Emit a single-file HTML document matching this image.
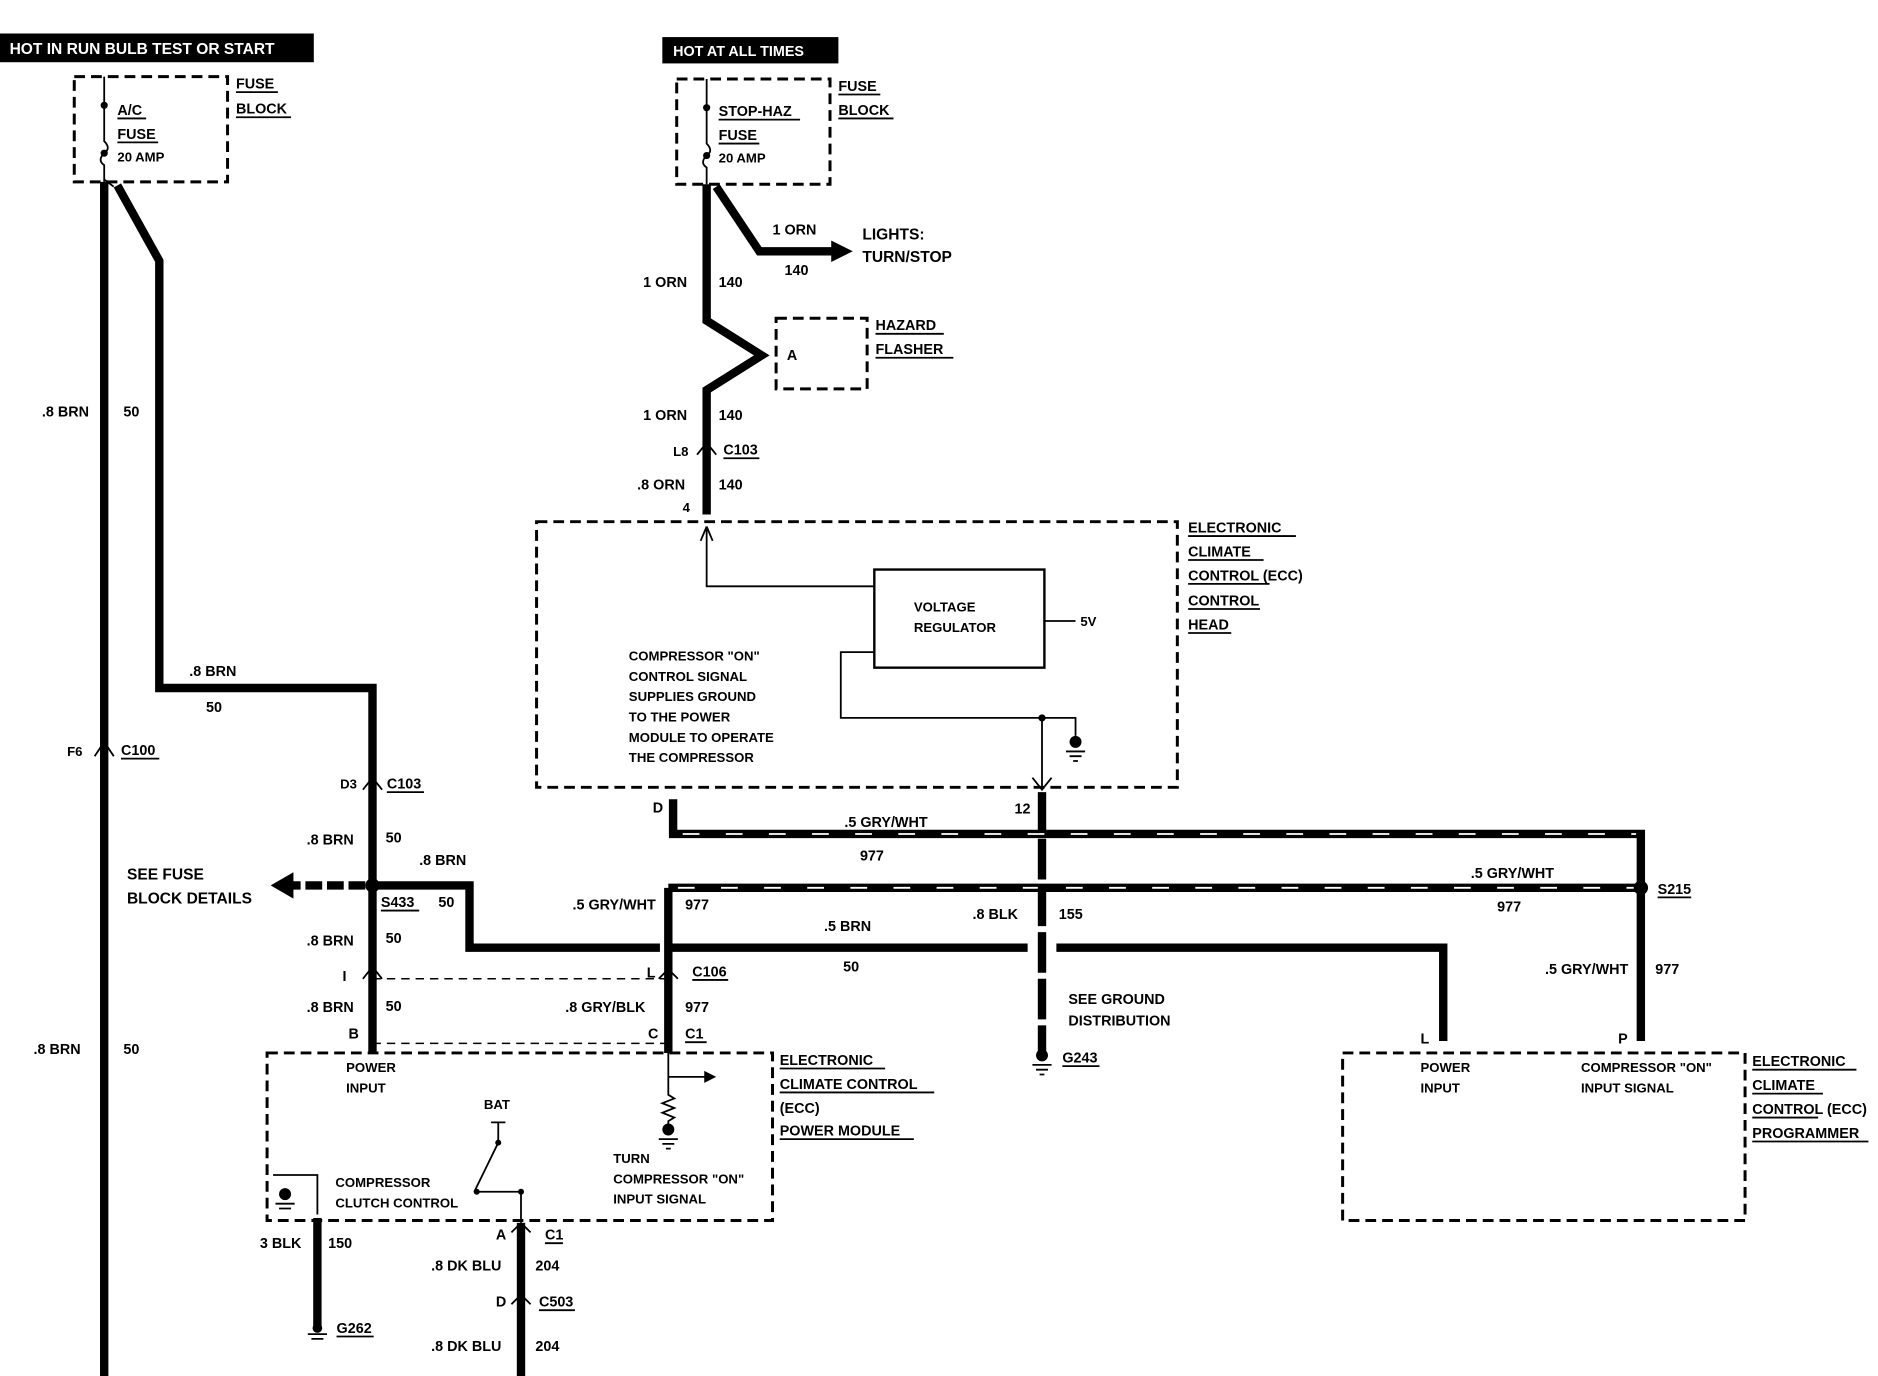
<!DOCTYPE html>
<html><head><meta charset="utf-8"><style>
html,body{margin:0;padding:0;background:#fff}
svg{display:block}
text{font-family:"Liberation Sans",sans-serif;font-weight:bold;font-size:12px;fill:#000}
.s{font-size:11px}
.w{stroke:#000;stroke-width:7;fill:none;stroke-linejoin:miter}
.t{stroke:#000;stroke-width:1.5;fill:none}
.d{stroke:#000;stroke-width:2.5;fill:none;stroke-dasharray:9,5}
.dt{stroke:#000;stroke-width:1.3;fill:none;stroke-dasharray:7,5}
.h{stroke:#fff;stroke-width:1.5;stroke-dasharray:14,22;fill:none}
.u{stroke:#000;stroke-width:1.5}
</style></head><body>
<svg width="1878" height="1376" viewBox="0 0 1568 1150" preserveAspectRatio="none" xmlns="http://www.w3.org/2000/svg">
<!-- top bars -->
<rect x="0" y="28" width="262" height="24" fill="#000"/>
<text x="8" y="45" style="fill:#fff;font-size:13px">HOT IN RUN BULB TEST OR START</text>
<rect x="553" y="31" width="147" height="22" fill="#000"/>
<text x="562" y="47" style="fill:#fff;font-size:12px">HOT AT ALL TIMES</text>

<!-- AC fuse block -->
<rect x="62" y="64" width="128" height="88" class="d"/>
<path class="t" d="M87 64 V118 q6 6 0 10 q-6 6 0 10 V152"/>
<circle cx="87" cy="88" r="3"/><circle cx="87" cy="128" r="3"/>
<path class="t" d="M87 150 L95 156"/>
<text x="98" y="96">A/C</text><line x1="98" y1="99" x2="122" y2="99" class="u"/>
<text x="98" y="116">FUSE</text><line x1="98" y1="119" x2="132" y2="119" class="u"/>
<text x="98" y="135" class="s">20 AMP</text>
<text x="197" y="74">FUSE</text><line x1="197" y1="77" x2="232" y2="77" class="u"/>
<text x="197" y="95">BLOCK</text><line x1="197" y1="98" x2="243" y2="98" class="u"/>

<path class="w" d="M87 152 V1150"/>
<path class="w" d="M98 155 L133 218 V575 H311 V880"/>
<text x="35" y="348">.8 BRN</text><text x="103" y="348">50</text>
<text x="28" y="881">.8 BRN</text><text x="103" y="881">50</text>
<text x="56" y="632" class="s">F6</text><text x="101" y="631">C100</text><line x1="101" y1="634" x2="133" y2="634" class="u"/>
<path d="M79 632 L87 620 L95 632" class="t" stroke-width="3"/>
<text x="158" y="565">.8 BRN</text><text x="172" y="595">50</text>

<text x="284" y="659" class="s">D3</text><text x="323" y="659">C103</text><line x1="323" y1="662" x2="354" y2="662" class="u"/>
<path d="M303 660 L311 650 L319 660" class="t" stroke-width="3"/>
<text x="256" y="706">.8 BRN</text><text x="322" y="704">50</text>
<circle cx="311" cy="740" r="6"/>
<path d="M305 740 H240" stroke="#000" stroke-width="7" stroke-dasharray="14,4"/>
<path d="M226 740 L245 729 L245 751 Z"/>
<text x="106" y="735" style="font-size:13px">SEE FUSE</text>
<text x="106" y="755" style="font-size:13px">BLOCK DETAILS</text>
<text x="318" y="758">S433</text><line x1="318" y1="761" x2="350" y2="761" class="u"/>
<path class="w" d="M311 740 H392 V792 H551"/>
<text x="350" y="723">.8 BRN</text><text x="366" y="758">50</text>
<text x="256" y="790">.8 BRN</text><text x="322" y="788">50</text>
<text x="286" y="820">I</text>
<path d="M303 818 L311 808 L319 818" class="t" stroke-width="3"/>
<text x="256" y="846">.8 BRN</text><text x="322" y="845">50</text>
<text x="291" y="868">B</text>
<path class="dt" d="M311 818 H558 M311 872 H558"/>

<!-- 977 wire to C106 -->
<path class="w" d="M558 742 V880"/>
<path class="w" d="M558 742 H1370 V870"/>
<path class="h" d="M566 742 H1366"/>
<text x="478" y="760">.5 GRY/WHT</text><text x="572" y="760">977</text>
<text x="540" y="817">L</text><text x="578" y="816">C106</text><line x1="578" y1="819" x2="608" y2="819" class="u"/>
<path d="M550 818 L558 810 L566 818" class="t" stroke-width="3"/>
<text x="472" y="846">.8 GRY/BLK</text><text x="572" y="846">977</text>
<text x="541" y="868">C</text><text x="572" y="868">C1</text><line x1="572" y1="871" x2="590" y2="871" class="u"/>
<circle cx="1370" cy="742" r="6"/>
<text x="1384" y="747">S215</text><line x1="1384" y1="750" x2="1412" y2="750" class="u"/>
<text x="1228" y="734">.5 GRY/WHT</text><text x="1250" y="762">977</text>
<text x="1290" y="814">.5 GRY/WHT</text><text x="1382" y="814">977</text>
<text x="1351" y="872">P</text>

<!-- D wire -->
<path class="w" d="M562 668 V697 H1370 V742"/>
<path class="h" d="M570 697 H1366"/>
<text x="545" y="679">D</text><text x="847" y="680">12</text>
<text x="705" y="691">.5 GRY/WHT</text><text x="718" y="719">977</text>

<!-- brown 50 to programmer -->
<path class="w" d="M558 792 H858 M882 792 H1205 V870"/>
<text x="688" y="778">.5 BRN</text><text x="704" y="812">50</text>
<text x="1186" y="872">L</text>

<!-- vertical 155 -->
<path class="w" d="M870 662 V880" stroke-dasharray="34,5"/>
<text x="812" y="768">.8 BLK</text><text x="884" y="768">155</text>
<text x="892" y="839">SEE GROUND</text><text x="892" y="857">DISTRIBUTION</text>
<circle cx="870" cy="882" r="5"/>
<path class="t" d="M862 890 H878 M865 894 H875 M868 898 H872"/>
<text x="887" y="888">G243</text><line x1="887" y1="891" x2="918" y2="891" class="u"/>

<!-- stop-haz fuse -->
<rect x="565" y="66" width="128" height="88" class="d"/>
<path class="t" d="M590 66 V120 q6 6 0 10 q-6 6 0 10 V154"/>
<circle cx="590" cy="90" r="3"/><circle cx="590" cy="130" r="3"/>
<text x="600" y="97">STOP-HAZ</text><line x1="600" y1="100" x2="668" y2="100" class="u"/>
<text x="600" y="117">FUSE</text><line x1="600" y1="120" x2="634" y2="120" class="u"/>
<text x="600" y="136" class="s">20 AMP</text>
<text x="700" y="76">FUSE</text><line x1="700" y1="79" x2="735" y2="79" class="u"/>
<text x="700" y="96">BLOCK</text><line x1="700" y1="99" x2="746" y2="99" class="u"/>
<path class="w" d="M590 154 V268 L636 297 L590 326 V430"/>
<path class="w" d="M598 156 L634 210 H696"/>
<path d="M712 210 L694 201 L694 219 Z"/>
<text x="645" y="196">1 ORN</text><text x="655" y="230">140</text>
<text x="720" y="200" style="font-size:13px">LIGHTS:</text><text x="720" y="219" style="font-size:13px">TURN/STOP</text>
<text x="537" y="240">1 ORN</text><text x="600" y="240">140</text>
<rect x="648" y="266" width="76" height="59" class="d"/>
<text x="657" y="301">A</text>
<text x="731" y="276">HAZARD</text><line x1="731" y1="279" x2="788" y2="279" class="u"/>
<text x="731" y="296">FLASHER</text><line x1="731" y1="299" x2="796" y2="299" class="u"/>
<text x="537" y="351">1 ORN</text><text x="600" y="351">140</text>
<text x="562" y="381" class="s">L8</text><text x="604" y="380">C103</text><line x1="604" y1="383" x2="634" y2="383" class="u"/>
<path d="M582 380 L590 370 L598 380" class="t" stroke-width="3"/>
<text x="532" y="409">.8 ORN</text><text x="600" y="409">140</text>
<text x="570" y="428" class="s">4</text>

<!-- ECC control head -->
<rect x="448" y="436" width="535" height="222" class="d"/>
<path class="t" d="M590 440 V490 H730"/>
<path d="M590 440 L585 452 M590 440 L595 452" class="t"/>
<rect x="730" y="476" width="142" height="82" fill="none" stroke="#000" stroke-width="2"/>
<text x="763" y="511" class="s">VOLTAGE</text><text x="763" y="528" class="s">REGULATOR</text>
<path class="t" d="M872 519 H898"/><text x="902" y="523" class="s">5V</text>
<path class="t" d="M730 545 H702 V600 H898 V615 M870 600 V658"/>
<circle cx="870" cy="600" r="3"/>
<circle cx="898" cy="620" r="5"/><path class="t" d="M890 628 H906 M893 632 H903 M896 636 H900"/>
<path d="M862 650 L870 660 L878 650" class="t"/>
<text x="525" y="552" class="s">COMPRESSOR "ON"</text>
<text x="525" y="569" class="s">CONTROL SIGNAL</text>
<text x="525" y="586" class="s">SUPPLIES GROUND</text>
<text x="525" y="603" class="s">TO THE POWER</text>
<text x="525" y="620" class="s">MODULE TO OPERATE</text>
<text x="525" y="637" class="s">THE COMPRESSOR</text>
<text x="992" y="445">ELECTRONIC</text><line x1="992" y1="448" x2="1082" y2="448" class="u"/>
<text x="992" y="465">CLIMATE</text><line x1="992" y1="468" x2="1055" y2="468" class="u"/>
<text x="992" y="485">CONTROL (ECC)</text><line x1="992" y1="488" x2="1060" y2="488" class="u"/>
<text x="992" y="506">CONTROL</text><line x1="992" y1="509" x2="1052" y2="509" class="u"/>
<text x="992" y="526">HEAD</text><line x1="992" y1="529" x2="1028" y2="529" class="u"/>

<!-- power module -->
<rect x="223" y="880" width="422" height="140" class="d"/>
<text x="289" y="896" class="s">POWER</text><text x="289" y="913" class="s">INPUT</text>
<path class="t" d="M558 880 V915 l5 3 -10 4 10 4 -10 4 10 4 -5 3 V940 M558 900 H590"/>
<path d="M598 900 L588 895 L588 905 Z"/>
<circle cx="558" cy="944" r="5"/><path class="t" d="M550 952 H566 M553 956 H563 M556 960 H560"/>
<text x="512" y="972" class="s">TURN</text>
<text x="512" y="989" class="s">COMPRESSOR "ON"</text>
<text x="512" y="1006" class="s">INPUT SIGNAL</text>
<text x="404" y="927" class="s">BAT</text>
<path class="t" d="M410 938 H422 M416 938 V955 M416 955 L396 996 M398 996 H435"/>
<circle cx="416" cy="955" r="2.5"/><circle cx="398" cy="996" r="2.5"/><circle cx="435" cy="996" r="2.5"/>
<path class="t" d="M435 996 V1020"/>
<path class="t" d="M228 982 H265 V1015 M238 994 V1000"/>
<circle cx="238" cy="998" r="5"/><path class="t" d="M230 1006 H246 M233 1010 H243"/>
<text x="280" y="992" class="s">COMPRESSOR</text><text x="280" y="1009" class="s">CLUTCH CONTROL</text>
<text x="651" y="890">ELECTRONIC</text><line x1="651" y1="893" x2="739" y2="893" class="u"/>
<text x="651" y="910">CLIMATE CONTROL</text><line x1="651" y1="913" x2="780" y2="913" class="u"/>
<text x="651" y="930">(ECC)</text>
<text x="651" y="949">POWER MODULE</text><line x1="651" y1="952" x2="763" y2="952" class="u"/>

<path class="w" d="M265 1018 V1110"/>
<text x="217" y="1043">3 BLK</text><text x="274" y="1043">150</text>
<circle cx="265" cy="1110" r="4"/><path class="t" d="M257 1115 H273 M260 1119 H270"/>
<text x="281" y="1114">G262</text><line x1="281" y1="1117" x2="312" y2="1117" class="u"/>
<path class="w" d="M435 1022 V1150"/>
<path d="M427 1030 L435 1022 L443 1030" class="t" stroke-width="3"/>
<text x="414" y="1036">A</text><text x="455" y="1036">C1</text><line x1="455" y1="1039" x2="470" y2="1039" class="u"/>
<text x="360" y="1062">.8 DK BLU</text><text x="447" y="1062">204</text>
<path d="M427 1090 L435 1082 L443 1090" class="t" stroke-width="3"/>
<text x="414" y="1092">D</text><text x="450" y="1092">C503</text><line x1="450" y1="1095" x2="480" y2="1095" class="u"/>
<text x="360" y="1129">.8 DK BLU</text><text x="447" y="1129">204</text>

<!-- programmer -->
<rect x="1121" y="880" width="336" height="140" class="d"/>
<text x="1186" y="896" class="s">POWER</text><text x="1186" y="913" class="s">INPUT</text>
<text x="1320" y="896" class="s">COMPRESSOR "ON"</text><text x="1320" y="913" class="s">INPUT SIGNAL</text>
<text x="1463" y="891">ELECTRONIC</text><line x1="1463" y1="894" x2="1550" y2="894" class="u"/>
<text x="1463" y="911">CLIMATE</text><line x1="1463" y1="914" x2="1522" y2="914" class="u"/>
<text x="1463" y="931">CONTROL (ECC)</text><line x1="1463" y1="934" x2="1518" y2="934" class="u"/>
<text x="1463" y="951">PROGRAMMER</text><line x1="1463" y1="954" x2="1560" y2="954" class="u"/>
</svg>
</body></html>
